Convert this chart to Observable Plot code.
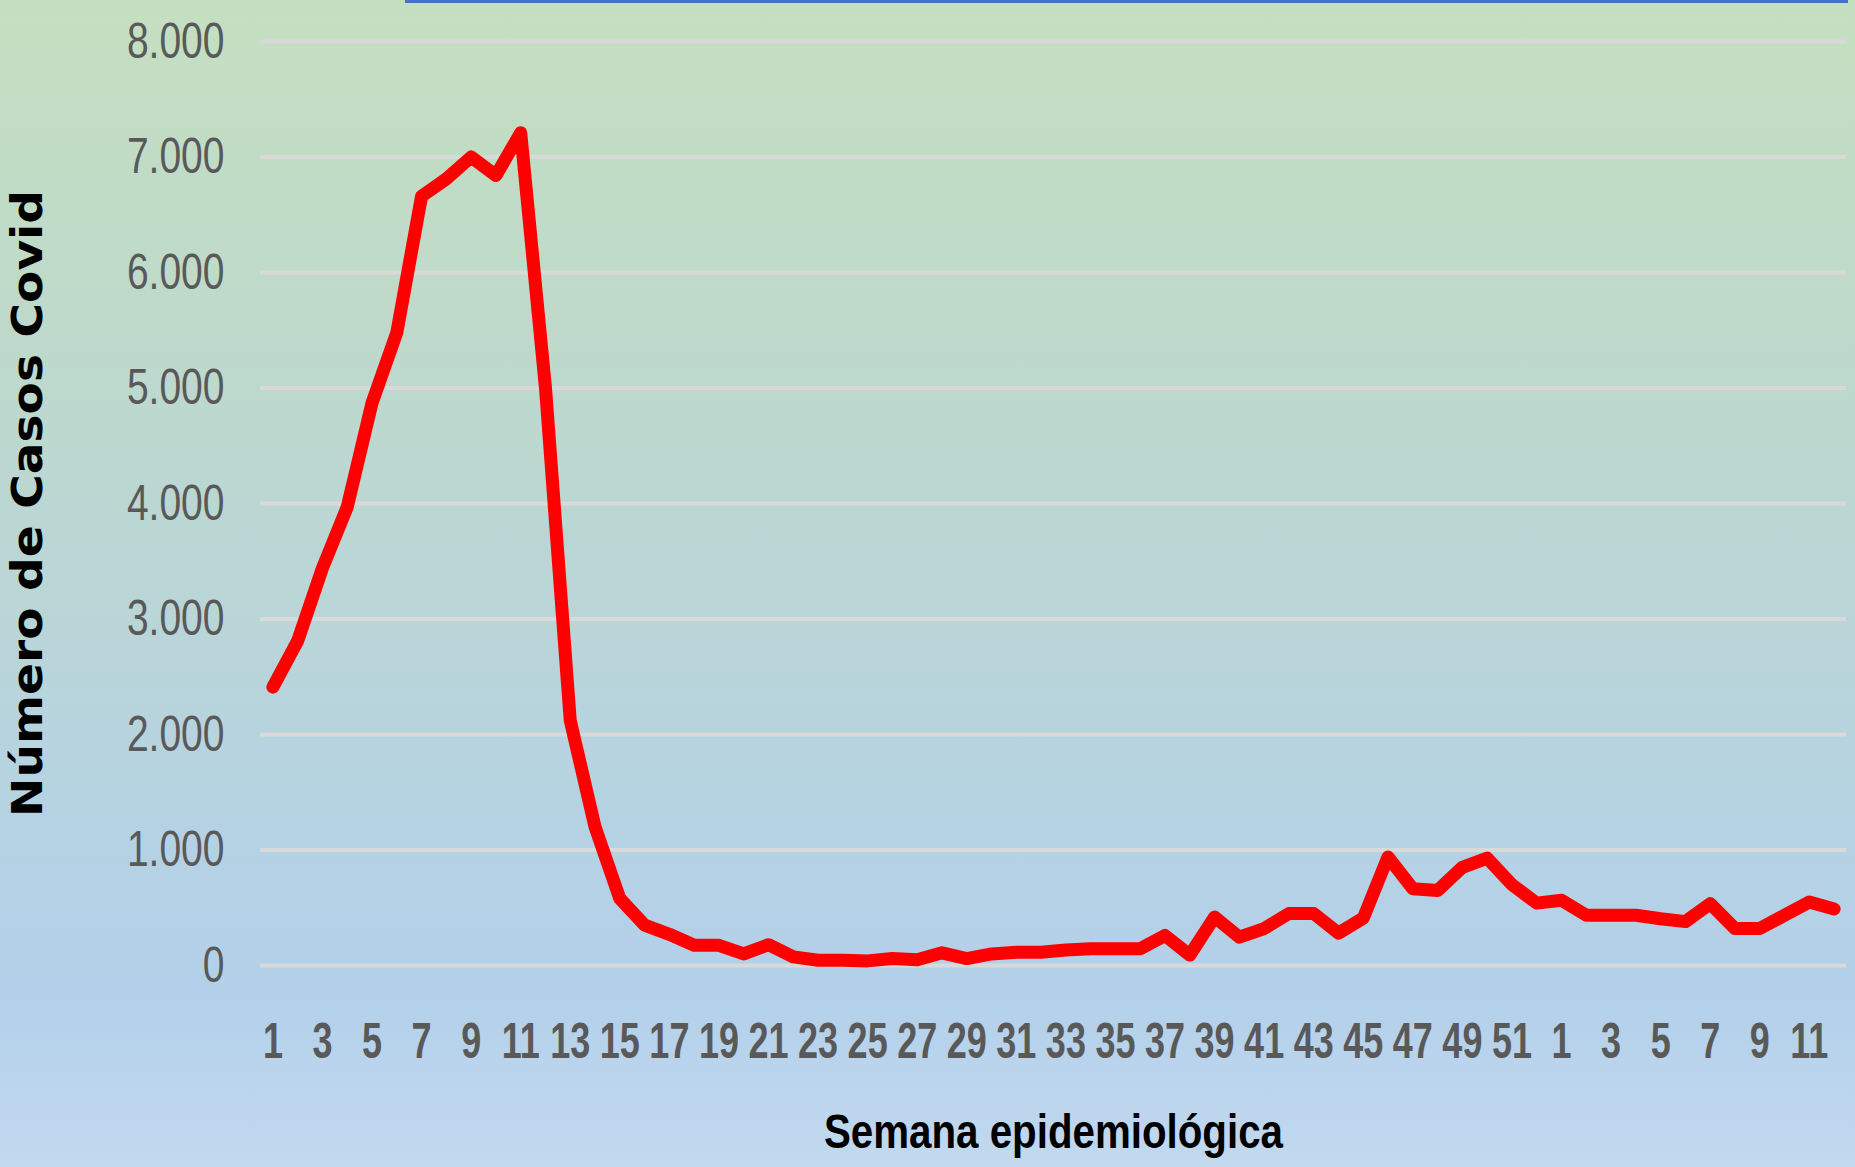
<!DOCTYPE html>
<html><head><meta charset="utf-8">
<script src="https://cdn.jsdelivr.net/npm/d3@7"></script>
<script src="https://cdn.jsdelivr.net/npm/@observablehq/plot@0.6"></script>
<style>
html,body{margin:0;padding:0;}
#wrap{position:relative;width:1855px;height:1167px;overflow:hidden;
  background:linear-gradient(to bottom,#c4dfc0 0%,#bfdac9 25%,#bad6d6 50%,#b5d2e4 72%,#b3d0ea 85%,#c2d9ef 100%);}
#topbar{position:absolute;left:405px;top:0;width:1443px;height:3px;background:#4472c4;}
#chart{position:absolute;left:0;top:0;}
</style></head><body>
<div id="wrap"><div id="chart"></div><div id="topbar"></div></div>
<script>
const weekLabels = [1,2,3,4,5,6,7,8,9,10,11,12,13,14,15,16,17,18,19,20,21,22,23,24,25,26,
  27,28,29,30,31,32,33,34,35,36,37,38,39,40,41,42,43,44,45,46,47,48,49,50,51,52,
  1,2,3,4,5,6,7,8,9,10,11,12];
const cases = [2410,2810,3440,3970,4870,5480,6660,6810,7000,6840,7210,5000,
  2120,1200,580,350,270,175,175,100,180,75,45,45,40,60,
  50,110,60,100,115,115,135,145,145,145,260,90,420,245,320,450,450,280,410,940,665,650,850,930,700,540,
  565,435,435,435,405,380,535,320,320,435,550,490];
const yTicks = [0,1000,2000,3000,4000,5000,6000,7000,8000];
const yTitle = "Número de Casos Covid";
const xTitle = "Semana epidemiológica";

const data = cases.map((v, i) => ({i, week: weekLabels[i], v}));
const sans = "'Liberation Sans', Arial, sans-serif";
const fmt = d => d3.format(",")(d).replace(/,/g, ".");

const chart = Plot.plot({
  width: 1855, height: 1167,
  marginLeft: 260, marginRight: 9, marginTop: 41, marginBottom: 202,
  style: {background: "transparent", overflow: "visible"},
  x: {type: "point", domain: d3.range(cases.length), padding: 0.5},
  y: {domain: [0, 8000]},
  marks: [
    Plot.ruleY(yTicks, {stroke: "#d9d9d9", strokeWidth: 4}),
    Plot.axisY(yTicks, {tickSize: 0, tickPadding: 36, tickFormat: fmt, fontSize: 50,
      fontFamily: sans, fill: "#595959", label: null}),
    Plot.axisX(d3.range(0, cases.length, 2), {tickSize: 0, tickPadding: 57,
      tickFormat: i => weekLabels[i], fontSize: 50, fontWeight: "bold",
      fontFamily: sans, fill: "#595959", label: null}),
    Plot.line(data, {x: "i", y: "v", stroke: "#ff0000", strokeWidth: 13,
      strokeLinejoin: "round", strokeLinecap: "round"}),
    Plot.text([yTitle], {text: d => d, frameAnchor: "left", textAnchor: "middle", lineAnchor: "middle",
      rotate: -90, dx: -232,
      fontSize: 42, fontWeight: "bold", fontFamily: "'DejaVu Sans', sans-serif", fill: "#000"}),
    Plot.text([xTitle], {text: d => d, frameAnchor: "bottom", lineAnchor: "top", dy: 148,
      fontSize: 49, fontWeight: "bold", fontFamily: sans, fill: "#000"})
  ]
});
document.getElementById("chart").appendChild(chart);

function squeeze(sel, k) {
  sel.each(function() {
    const L = this.getComputedTextLength();
    this.setAttribute("textLength", (typeof k === "function" ? k(L) : L * k));
    this.setAttribute("lengthAdjust", "spacingAndGlyphs");
  });
}
const svg = d3.select(chart);
squeeze(svg.selectAll('g[aria-label="y-axis tick label"] text'), 0.78);
squeeze(svg.selectAll('g[aria-label="x-axis tick label"] text'), 0.72);
squeeze(svg.selectAll("text").filter(function(){ return this.textContent === yTitle; }), () => 627);
squeeze(svg.selectAll("text").filter(function(){ return this.textContent === xTitle; }), () => 459);
</script>
</body></html>
